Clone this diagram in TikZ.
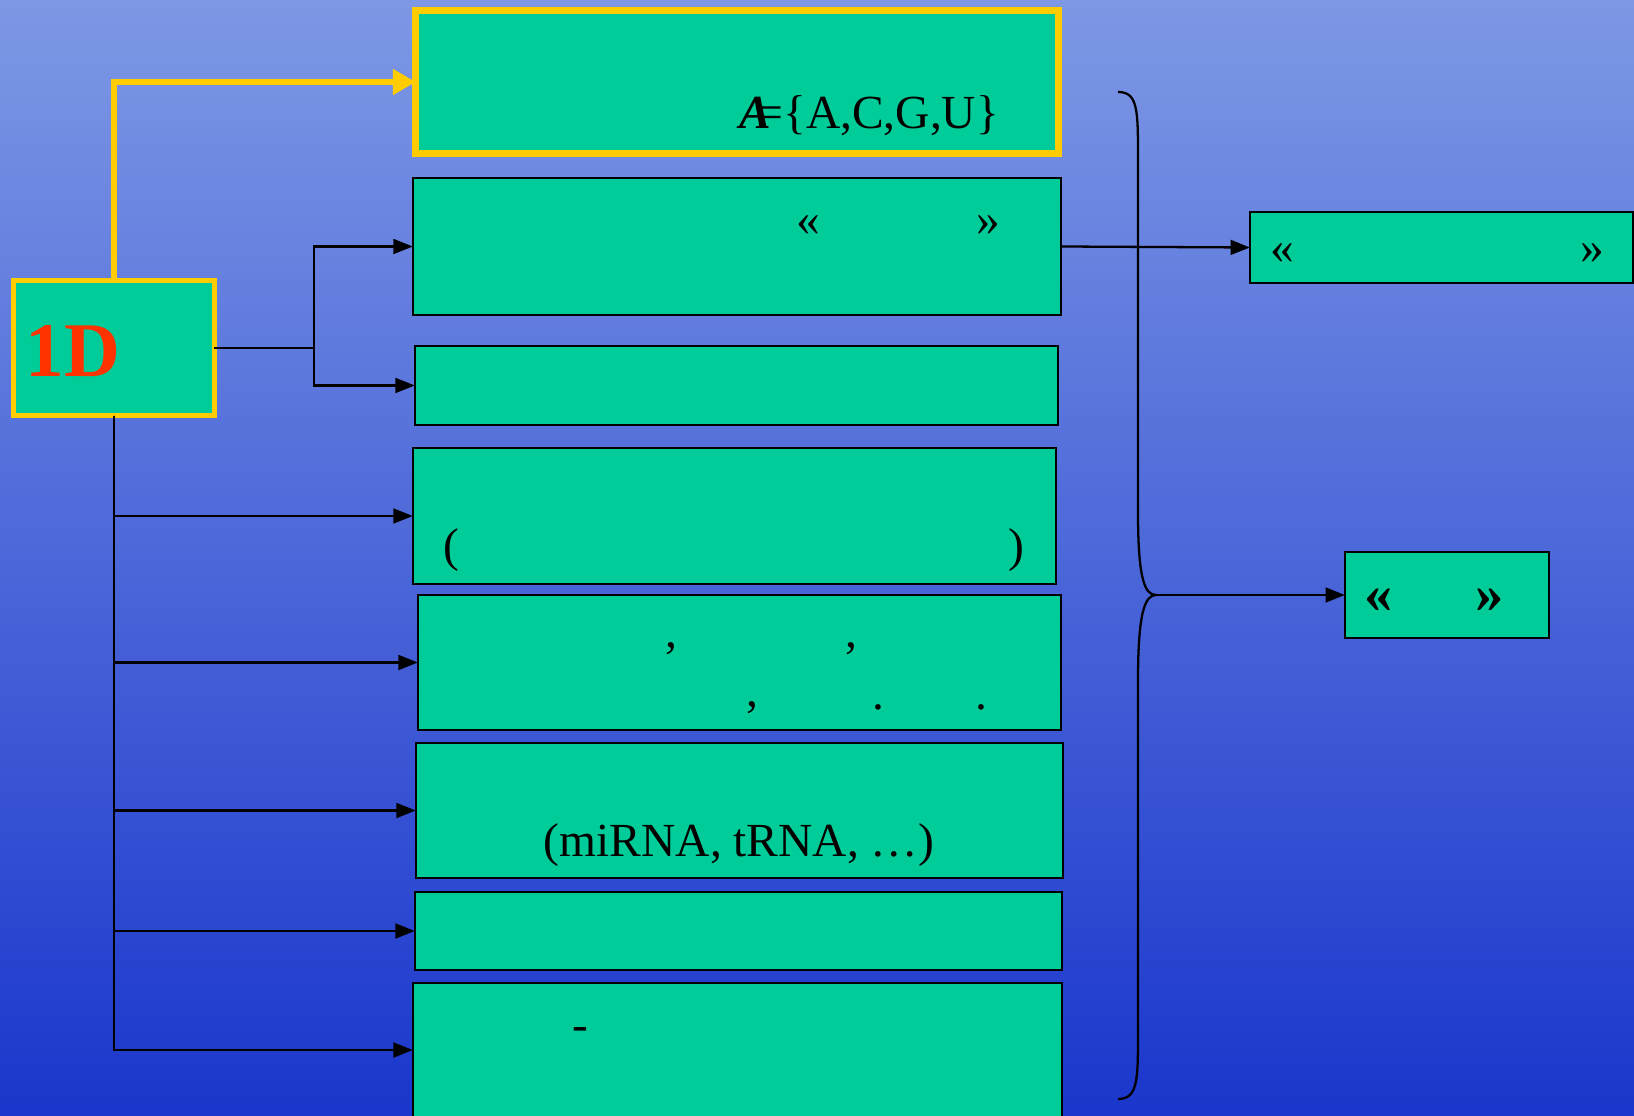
\documentclass[tikz,border=0pt]{standalone}
\usepackage{fontspec}
\setmainfont{Liberation Serif}
\usetikzlibrary{arrows.meta,positioning}
\definecolor{bgtop}{RGB}{126,152,229}
\definecolor{bgbot}{RGB}{26,54,204}
\definecolor{cellg}{RGB}{0,204,153}
\definecolor{goldy}{RGB}{255,204,0}
\definecolor{redd}{RGB}{255,51,0}

\begin{document}
\begin{tikzpicture}[x=0.01cm, y=-0.01cm,
  font=\fontsize{13.5}{16}\selectfont,
  cell/.style={draw=black, line width=0.6pt, fill=cellg, inner sep=0pt, outer sep=0pt},
  gcell/.style={cell, draw=goldy},
  conn/.style={line width=0.65pt},
  arr/.style={conn, -{Triangle[length=5.5pt,width=4.2pt]}},
  yarr/.style={draw=goldy, line width=1.9pt, -{Triangle[length=6.5pt,width=7pt]}},
  txt/.style={anchor=base, inner sep=0pt}]
  % background
  \useasboundingbox (0,0) rectangle (1634,1116);
  \shade[top color=bgtop, bottom color=bgbot] (0,0) rectangle (1634,1116);
  % root box
  \node[gcell, line width=1.4pt, minimum width=2.00cm, minimum height=1.35cm] (n1d) at (114,348) {};
  \node[txt, anchor=base west, text=redd, font=\fontsize{22}{22}\selectfont\bfseries] (t1d) at (25,377) {1D};
  % middle column
  \node[gcell, line width=1.9pt, minimum width=6.42cm, minimum height=1.43cm] (alph) at (737,82) {};
  \node[cell, minimum width=6.48cm, minimum height=1.37cm] (b2) at (737,246.5) {};
  \node[cell, minimum width=6.43cm, minimum height=0.79cm] (b3) at (736.5,385.5) {};
  \node[cell, minimum width=6.43cm, minimum height=1.36cm] (b4) at (734.5,516) {};
  \node[cell, minimum width=6.43cm, minimum height=1.35cm] (b5) at (739.5,662.5) {};
  \node[cell, minimum width=6.47cm, minimum height=1.35cm] (b6) at (739.5,810.5) {};
  \node[cell, minimum width=6.47cm, minimum height=0.78cm] (b7) at (738.5,931) {};
  \node[cell, minimum width=6.49cm, minimum height=1.34cm] (b8) at (737.5,1050) {};
  % right column
  \node[cell, minimum width=3.83cm, minimum height=0.71cm] (r1) at (1441.5,247.5) {};
  \node[cell, minimum width=2.04cm, minimum height=0.86cm] (r2) at (1447,595) {};
  % texts in the boxes
  \node[txt] (tA) at (869,128.5) {\textbf{\textit{A}}\kern-0.3em=\{A,C,G,U\}};
  \node[txt] (q2l) at (808,236) {«};
  \node[txt] (q2r) at (988,236) {»};
  \node[txt] (p4l) at (451,561) {(};
  \node[txt] (p4r) at (1016,561) {)};
  \node[txt] (c5a) at (671,647) {,};
  \node[txt] (c5b) at (851,647) {,};
  \node[txt] (c5c) at (752,706) {,};
  \node[txt] (d5a) at (878,709) {.};
  \node[txt] (d5b) at (981,709) {.};
  \node[txt] (t6) at (739,856) {(miRNA, tRNA, …)};
  \node[txt] (h8) at (580,1040) {-};
  \node[txt] (qr1l) at (1282,264) {«};
  \node[txt] (qr1r) at (1592,264) {»};
  \node[txt, font=\fontsize{16}{16}\selectfont\bfseries] (qr2l) at (1379,612) {«};
  \node[txt, font=\fontsize{16}{16}\selectfont\bfseries] (qr2r) at (1490,612) {»};
  % connectors
  \draw[yarr] (n1d.north) |- (alph.west);
  \coordinate (jR) at (314,348);
  \draw[conn] (n1d.east) -- (jR);
  \draw[arr] (jR) |- (b2.west);
  \draw[arr] (jR) |- (b3.west);
  \foreach \b in {b4,b5,b6,b7,b8}
    \draw[arr] (n1d.south) |- (\b.west);
  \draw[arr] (b2.east) -- (r1.west);
  % brace
  \coordinate (tip) at (1156,595);
  \draw[conn] (1118,92) .. controls (1138,92) and (1138,110) .. (1138,160)
    -- (1138,513) .. controls (1138,580) and (1145,595) .. (tip)
    .. controls (1145,595) and (1138,612) .. (1138,680)
    -- (1138,1030) .. controls (1138,1080) and (1138,1099) .. (1118,1099);
  \draw[arr] (tip) -- (r2.west);
\end{tikzpicture}
\end{document}
